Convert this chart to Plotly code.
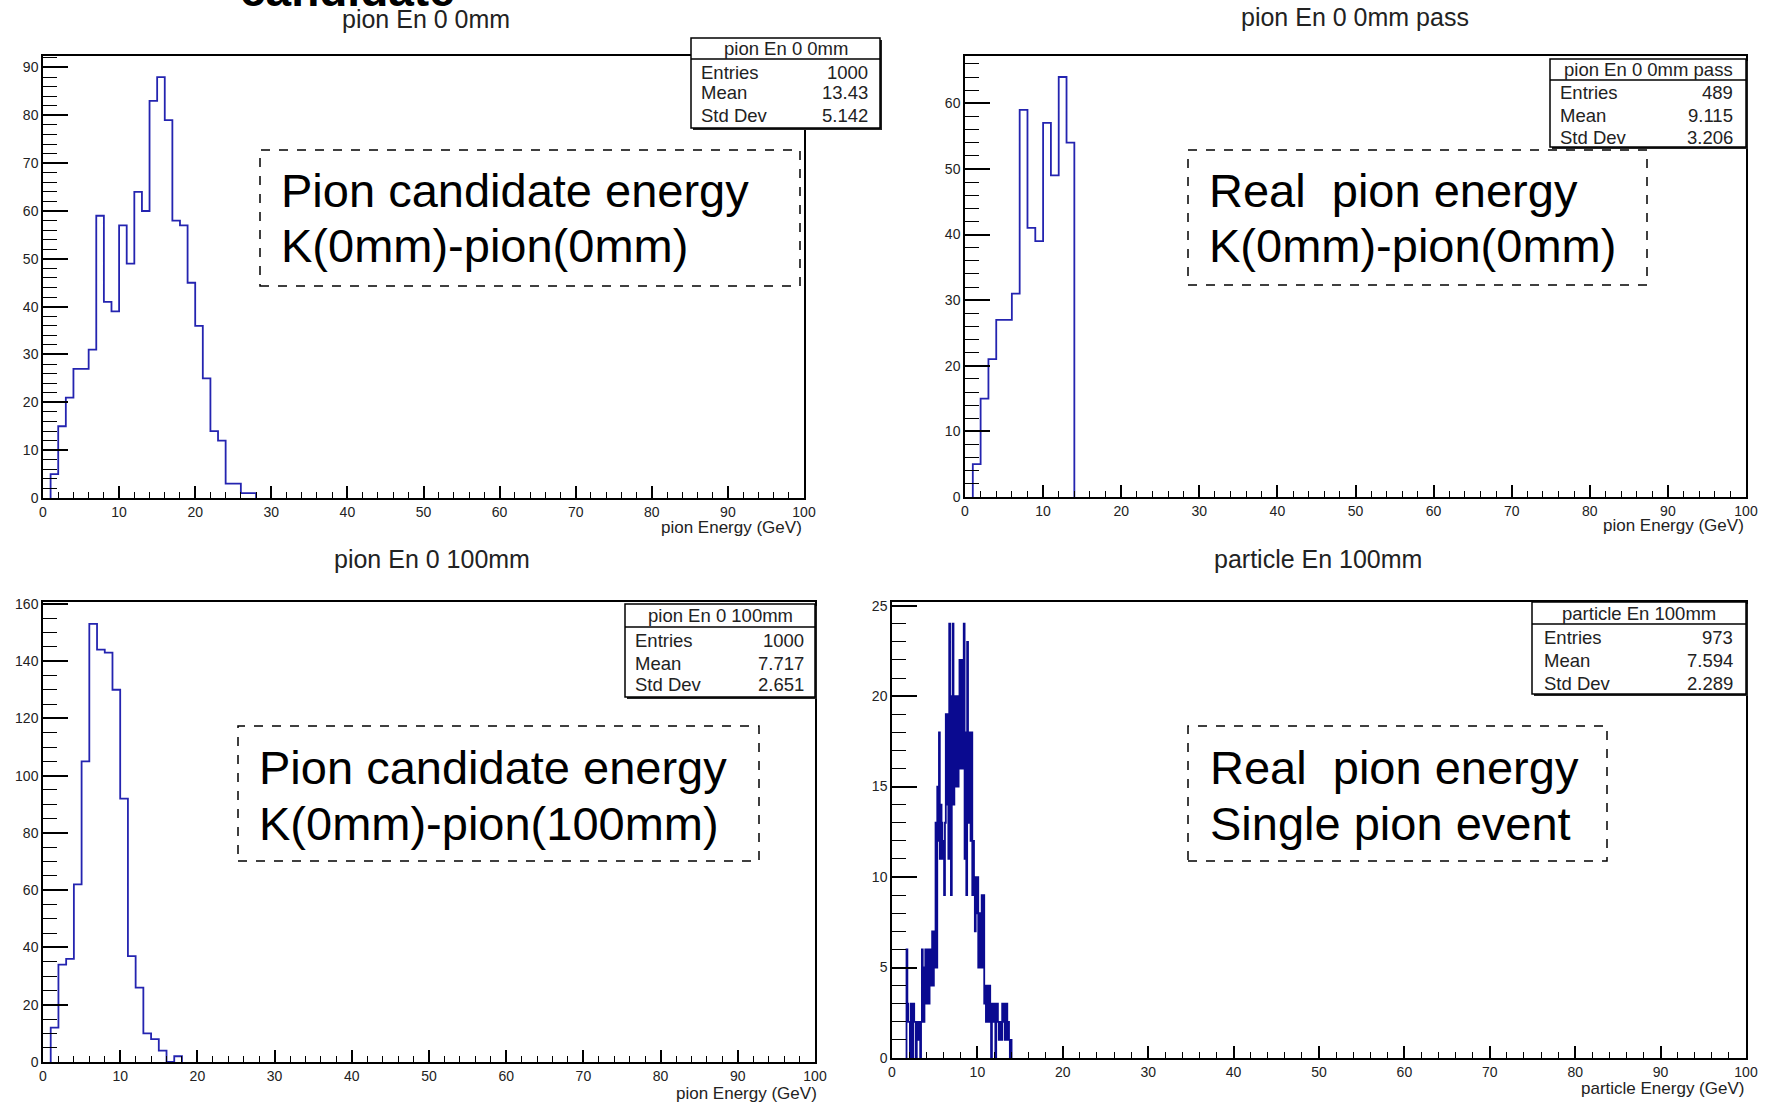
import numpy as np
import plotly.graph_objects as go

W, H = 1770, 1102

# ---------------- data ----------------
bin_width_coarse = 1.0
bin_width_fine = 0.1

p1_title = "pion En 0 0mm"
p1_start = 1.0
p1_counts = [5, 15, 21, 27, 27, 31, 59, 41, 39, 57, 49, 64, 60, 83, 88, 79, 58, 57, 45, 36,
             25, 14, 12, 3, 3, 1, 1]
p1_stats = [("Entries", "1000"), ("Mean", "13.43"), ("Std Dev", "5.142")]

p2_title = "pion En 0 0mm pass"
p2_start = 1.0
p2_counts = [5, 15, 21, 27, 27, 31, 59, 41, 39, 57, 49, 64, 54]
p2_stats = [("Entries", "489"), ("Mean", "9.115"), ("Std Dev", "3.206")]

p3_title = "pion En 0 100mm"
p3_start = 1.0
p3_counts = [12, 34, 36, 62, 105, 153, 144, 143, 130, 92, 37, 26, 10, 8, 4, 0, 2]
p3_stats = [("Entries", "1000"), ("Mean", "7.717"), ("Std Dev", "2.651")]

p4_title = "particle En 100mm"
p4_start = 1.7
p4_counts = [6, 3, 2, 2, 0, 3, 2, 0, 3, 2,
             2, 0, 2, 1, 2, 2, 0, 2, 6, 5,
             2, 5, 6, 3, 6, 4, 3, 6, 4, 5,
             7, 4, 5, 7, 13, 5, 15, 12, 18, 11,
             14, 13, 11, 12, 9, 13, 19, 14, 19, 11,
             24, 16, 9, 20, 24, 14, 20, 15, 20, 18,
             15, 20, 22, 16, 22, 21, 16, 24, 11, 18,
             9, 23, 13, 17, 18, 12, 18, 9, 12, 10,
             7, 10, 8, 10, 5, 8, 6, 5, 9, 5,
             9, 3, 4, 2, 4, 3, 2, 4, 3, 0,
             2, 3, 2, 3, 0, 2, 3, 2, 1, 2,
             2, 1, 3, 2, 3, 1, 2, 3, 1, 2, 1, 0, 1]
p4_stats = [("Entries", "973"), ("Mean", "7.594"), ("Std Dev", "2.289")]

x_titles = ["pion Energy (GeV)", "pion Energy (GeV)", "pion Energy (GeV)", "particle Energy (GeV)"]
box_texts = [["Pion candidate energy", "K(0mm)-pion(0mm)"],
             ["Real  pion energy", "K(0mm)-pion(0mm)"],
             ["Pion candidate energy", "K(0mm)-pion(100mm)"],
             ["Real  pion energy", "Single pion event"]]
top_clipped_text = "candidate"

# ---------------- helpers ----------------
def fx(px):
    return px / W

def fy(py):
    return 1 - py / H

def step_xy(start, width, counts):
    edges = start + width * np.arange(len(counts) + 1)
    xs, ys = [edges[0]], [0]
    for i, c in enumerate(counts):
        xs += [edges[i], edges[i + 1]]
        ys += [c, c]
    xs.append(edges[-1]); ys.append(0)
    return xs, ys

FONT = "Liberation Sans, Arial, Helvetica, sans-serif"

# panel layout (pixels): frame left, right, top, bottom
panels = [
    dict(title=p1_title, start=p1_start, width=bin_width_coarse, counts=p1_counts, stats=p1_stats,
         frame=(43, 804, 56, 498), ymax=92.4, ydt=10, ymin=2, color="#2424b0",
         title_pos=(426, 19), box=(691, 880, 38, 128, 59), rows=(72, 93, 115), lx=699, rx=870,
         dbox=(260, 800, 150, 286), tl=(279, 191, 245), xt=(804, 527)),
    dict(title=p2_title, start=p2_start, width=bin_width_coarse, counts=p2_counts, stats=p2_stats,
         frame=(965, 1746, 56, 497), ymax=67.2, ydt=10, ymin=2, color="#2424b0",
         title_pos=(1355, 17), box=(1550, 1746, 59, 147, 80), rows=(93, 115, 137), lx=1558, rx=1735,
         dbox=(1188, 1647, 150, 285), tl=(1207, 191, 245), xt=(1746, 526)),
    dict(title=p3_title, start=p3_start, width=bin_width_coarse, counts=p3_counts, stats=p3_stats,
         frame=(43, 815, 602, 1062), ymax=160.65, ydt=20, ymin=5, color="#2424b0",
         title_pos=(432, 559), box=(625, 815, 604, 697, 627), rows=(640, 663, 684), lx=633, rx=806,
         dbox=(238, 759, 726, 861), tl=(257, 767, 823), xt=(819, 1093)),
    dict(title=p4_title, start=p4_start, width=bin_width_fine, counts=p4_counts, stats=p4_stats,
         frame=(892, 1746, 602, 1058), ymax=25.2, ydt=5, ymin=1, color="#0a0a90",
         title_pos=(1318, 559), box=(1532, 1746, 602, 694, 624), rows=(637, 660, 683), lx=1542, rx=1735,
         dbox=(1188, 1607, 726, 861), tl=(1208, 767, 823), xt=(1746, 1088)),
]

fig = go.Figure()
shapes, annotations = [], []
layout = {}

for i, p in enumerate(panels):
    n = "" if i == 0 else str(i + 1)
    xs, ys = step_xy(p["start"], p["width"], p["counts"])
    fig.add_trace(go.Scatter(x=xs, y=ys, mode="lines", xaxis="x" + n, yaxis="y" + n,
                             line=dict(color=p["color"], width=1.8), showlegend=False,
                             hoverinfo="skip"))
    l, r, t, b = p["frame"]
    layout["xaxis" + n] = dict(domain=[fx(l), fx(r)], anchor="y" + n, range=[0, 100],
                               automargin=False,
                               dtick=10, tick0=0, ticks="inside", ticklen=12, tickwidth=1.5,
                               tickcolor="black", showline=True, linecolor="black", linewidth=1.5,
                               mirror=True, showgrid=False, zeroline=False,
                               tickfont=dict(family=FONT, size=14, color="#222"),
                               minor=dict(dtick=2, ticks="inside", ticklen=6, tickwidth=1.2,
                                          tickcolor="black", showgrid=False))
    layout["yaxis" + n] = dict(domain=[fy(b), fy(t)], anchor="x" + n, range=[0, p["ymax"]],
                               automargin=False,
                               dtick=p["ydt"], tick0=0, ticks="inside", ticklen=25, tickwidth=1.5,
                               tickcolor="black", showline=True, linecolor="black", linewidth=1.5,
                               mirror=True, showgrid=False, zeroline=False,
                               tickfont=dict(family=FONT, size=14, color="#222"),
                               minor=dict(dtick=p["ymin"], ticks="inside", ticklen=14, tickwidth=1.2,
                                          tickcolor="black", showgrid=False))
    # title
    tx, ty = p["title_pos"]
    annotations.append(dict(text=p["title"], x=fx(tx), y=fy(ty), xref="paper", yref="paper",
                            showarrow=False, xanchor="center", yanchor="middle",
                            font=dict(family=FONT, size=25, color="#222")))
    # x-axis title
    ax, ay = p["xt"]
    annotations.append(dict(text=x_titles[i], x=fx(ax), y=fy(ay), xref="paper", yref="paper",
                            showarrow=False, xanchor="right", yanchor="middle",
                            font=dict(family=FONT, size=17, color="#222")))
    # stats box (shadow + box + header separator)
    bx0, bx1, by0, by1, bsep = p["box"]
    shapes.append(dict(type="rect", xref="paper", yref="paper", x0=fx(bx0 + 2), x1=fx(bx1 + 2),
                       y0=fy(by1 + 2), y1=fy(by0 + 2), line=dict(width=0), fillcolor="#222"))
    shapes.append(dict(type="rect", xref="paper", yref="paper", x0=fx(bx0), x1=fx(bx1),
                       y0=fy(by1), y1=fy(by0), line=dict(color="black", width=1.5),
                       fillcolor="white"))
    shapes.append(dict(type="line", xref="paper", yref="paper", x0=fx(bx0), x1=fx(bx1),
                       y0=fy(bsep), y1=fy(bsep), line=dict(color="black", width=1.5)))
    annotations.append(dict(text=p["title"], x=fx((bx0 + bx1) / 2), y=fy((by0 + bsep) / 2),
                            xref="paper", yref="paper", showarrow=False, xanchor="center",
                            yanchor="middle", font=dict(family=FONT, size=18.5, color="#222")))
    for (lab, val), ry in zip(p["stats"], p["rows"]):
        annotations.append(dict(text=lab, x=fx(p["lx"]), y=fy(ry), xref="paper", yref="paper",
                                showarrow=False, xanchor="left", yanchor="middle",
                                font=dict(family=FONT, size=18.5, color="#222")))
        annotations.append(dict(text=val, x=fx(p["rx"]), y=fy(ry), xref="paper", yref="paper",
                                showarrow=False, xanchor="right", yanchor="middle",
                                font=dict(family=FONT, size=18.5, color="#222")))
    # dashed text box
    dx0, dx1, dy0, dy1 = p["dbox"]
    shapes.append(dict(type="rect", xref="paper", yref="paper", x0=fx(dx0), x1=fx(dx1),
                       y0=fy(dy1), y1=fy(dy0), line=dict(color="black", width=1.5, dash="dash"),
                       fillcolor="rgba(0,0,0,0)"))
    tlx, ty1, ty2 = p["tl"]
    for txt, yy in zip(box_texts[i], (ty1, ty2)):
        annotations.append(dict(text=txt, x=fx(tlx), y=fy(yy), xref="paper", yref="paper",
                                showarrow=False, xanchor="left", yanchor="middle",
                                font=dict(family=FONT, size=47, color="black")))

# clipped slide text at the very top
annotations.append(dict(text="<b>" + top_clipped_text + "</b>", x=fx(347), y=fy(18),
                        xref="paper", yref="paper", showarrow=False, xanchor="center",
                        yanchor="bottom", font=dict(family=FONT, size=46, color="black")))

fig.update_layout(width=W, height=H, margin=dict(l=0, r=0, t=0, b=0, autoexpand=False),
                  paper_bgcolor="white", plot_bgcolor="white",
                  shapes=shapes, annotations=annotations, **layout)

fig.write_html("out.html")
